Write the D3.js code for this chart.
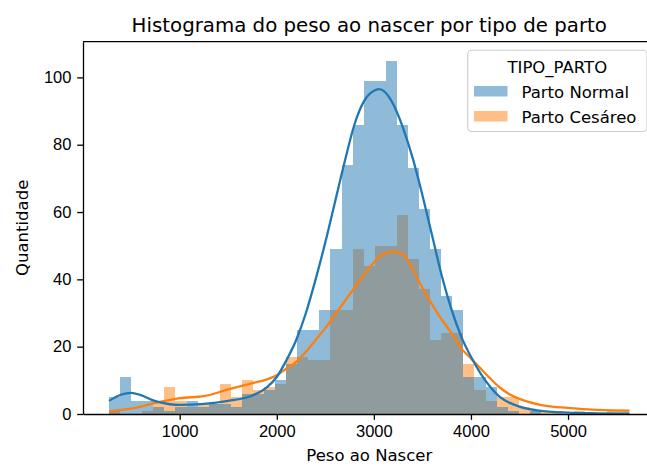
<!DOCTYPE html>
<html lang="pt">
<head>
<meta charset="UTF-8" />
<title>Histograma do peso ao nascer por tipo de parto</title>
<script src="https://d3js.org/d3.v7.min.js"></script>
<style>
  body { margin: 0; background: #fff; }
  svg { font-family: "DejaVu Sans", sans-serif; }
  .tick text { font-size: 16.5px; fill: #000; }
  .tick line, .domain { stroke: #000; stroke-width: 1.3px; }
</style>
</head>
<body>
<svg id="chart" width="647" height="466"></svg>
<script>
// bins shared by both groups (grams)
const binStart = 272;
const binWidth = 114.06;
const nBins = 47;

// counts per bin
const partoNormal = [5, 11, 4, 4, 2, 1, 2, 4, 2, 3, 3, 2, 6, 6, 7, 10, 15, 25, 25, 31,
  49, 74, 86, 99, 99, 105, 86, 73, 61, 49, 35, 31, 11, 11, 8, 2, 1, 0, 1, 0,
  0, 0, 0, 0, 0, 0, 0];
const partoCesareo = [1, 0, 0, 1, 4, 8, 4, 2, 3, 3, 9, 5, 10, 7, 8, 9, 17, 17, 16, 16,
  31, 31, 49, 44, 50, 50, 59, 46, 37, 22, 24, 24, 15, 7, 4, 5, 5, 2, 1, 1,
  1, 0, 1, 0, 0, 1, 1];

// kde curves
const kdeX = [272, 400, 500, 600, 750, 900, 1000, 1250, 1500, 1750, 1900, 2000, 2100, 2200,
  2300, 2400, 2500, 2600, 2700, 2800, 2900, 3000, 3050, 3100, 3200, 3300, 3400, 3500,
  3600, 3700, 3800, 3900, 4000, 4100, 4200, 4300, 4400, 4500, 4700, 5000, 5300, 5633];
const kdeNormal = [3.9, 5.8, 6.3, 5.6, 3.8, 2.9, 2.7, 3.0, 3.9, 5.5, 8, 11, 16, 22,
  30, 40, 51, 63, 75, 86, 93, 96, 96.5, 96, 92, 85, 76, 65,
  53, 41, 31, 23, 17, 12, 8, 5, 3.3, 2.2, 1, 0.4, 0.2, 0.1];
const kdeCesareo = [0.8, 1.2, 1.6, 2.2, 3.3, 4.2, 4.7, 5.3, 7.3, 9.2, 10.3, 11.5, 13.5, 15.5,
  18.5, 22, 25.5, 29.5, 33.5, 37.5, 41.5, 45, 46.5, 47.5, 48.2, 47.5, 43, 37.5,
  32.5, 28, 24, 19.5, 16.5, 13.5, 10.5, 7.8, 5.8, 4.5, 2.8, 1.8, 1.2, 1.0];

const xTicks = [1000, 2000, 3000, 4000, 5000];
const yTicks = [0, 20, 40, 60, 80, 100];

const series = [
  { name: "Parto Normal", counts: partoNormal, kde: kdeNormal, color: "#1f77b4" },
  { name: "Parto Cesáreo", counts: partoCesareo, kde: kdeCesareo, color: "#ff7f0e" }
];

const plotL = 83, plotR = 655.5, plotT = 41.7, plotB = 414;
const svg = d3.select("#chart");

const binEnd = binStart + nBins * binWidth;
const pad = 0.05 * (binEnd - binStart);
const x = d3.scaleLinear().domain([binStart - pad, binEnd + pad]).range([plotL, plotR]);
const yMax = 110.6;
const y = d3.scaleLinear().domain([0, yMax]).range([plotB, plotT]);

svg.append("defs").append("clipPath").attr("id", "plot")
  .append("rect").attr("x", plotL).attr("y", plotT)
  .attr("width", plotR - plotL).attr("height", plotB - plotT);

const plot = svg.append("g").attr("clip-path", "url(#plot)");

// orange first, blue layered on top
[series[1], series[0]].forEach(s => {
  plot.append("g")
    .selectAll("rect")
    .data(s.counts)
    .join("rect")
    .attr("x", (d, i) => x(binStart + i * binWidth))
    .attr("width", (d, i) => x(binStart + (i + 1) * binWidth) - x(binStart + i * binWidth))
    .attr("y", d => y(d))
    .attr("height", d => y(0) - y(d))
    .attr("fill", s.color)
    .attr("fill-opacity", 0.5)
    .attr("shape-rendering", "crispEdges");
});

[series[1], series[0]].forEach(s => {
  const line = d3.line()
    .x((d, i) => x(kdeX[i]))
    .y(d => y(d))
    .curve(d3.curveMonotoneX);
  plot.append("path")
    .datum(s.kde)
    .attr("d", line)
    .attr("fill", "none")
    .attr("stroke", s.color)
    .attr("stroke-width", 2.3);
});

// axes
svg.append("g")
  .attr("transform", `translate(0,${plotB})`)
  .call(d3.axisBottom(x).tickValues(xTicks).tickFormat(d3.format("d"))
    .tickSize(5.8).tickPadding(5.8).tickSizeOuter(0));

svg.append("g")
  .attr("transform", `translate(${plotL},0)`)
  .call(d3.axisLeft(y).tickValues(yTicks).tickFormat(d3.format("d"))
    .tickSize(5.8).tickPadding(5.8).tickSizeOuter(0));

svg.append("line")
  .attr("x1", plotL).attr("x2", plotR).attr("y1", plotT).attr("y2", plotT)
  .attr("stroke", "#000").attr("stroke-width", 1.3);

// labels
svg.append("text")
  .attr("x", (plotL + plotR) / 2).attr("y", 31.8)
  .attr("text-anchor", "middle")
  .attr("font-size", "19.8px")
  .text("Histograma do peso ao nascer por tipo de parto");

svg.append("text")
  .attr("x", (plotL + plotR) / 2).attr("y", 461)
  .attr("text-anchor", "middle")
  .attr("font-size", "16.5px")
  .text("Peso ao Nascer");

svg.append("text")
  .attr("transform", `translate(28,${(plotT + plotB) / 2}) rotate(-90)`)
  .attr("text-anchor", "middle")
  .attr("font-size", "16.5px")
  .text("Quantidade");

// legend
const lg = svg.append("g");
lg.append("rect")
  .attr("x", 467.7).attr("y", 50.3)
  .attr("width", 179.3).attr("height", 81.2)
  .attr("rx", 4)
  .attr("fill", "#fff").attr("fill-opacity", 0.8)
  .attr("stroke", "#cccccc").attr("stroke-width", 1.1);

lg.append("text")
  .attr("x", 557.3).attr("y", 73.3)
  .attr("text-anchor", "middle")
  .attr("font-size", "16.5px")
  .text("TIPO_PARTO");

series.forEach((s, i) => {
  const base = 98.3 + i * 25;
  lg.append("rect")
    .attr("x", 474).attr("y", base - 12.3)
    .attr("width", 33.5).attr("height", 10.5)
    .attr("fill", s.color).attr("fill-opacity", 0.5);
  lg.append("text")
    .attr("x", 521.5).attr("y", base)
    .attr("font-size", "16.5px")
    .text(s.name);
});
</script>
</body>
</html>
